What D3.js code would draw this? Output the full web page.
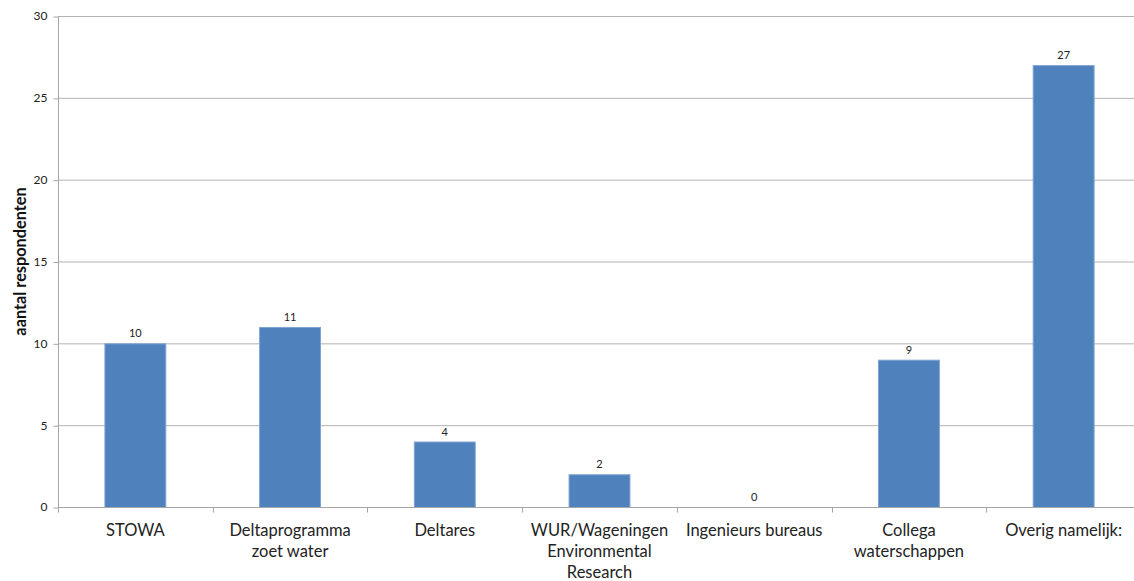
<!DOCTYPE html>
<html><head><meta charset="utf-8">
<script src="https://cdn.jsdelivr.net/npm/d3@7"></script>
<style>body{margin:0;background:#fff}svg{display:block}</style>
</head><body>
<svg id="c" width="1134" height="581"></svg>
<script>
const categories = [["STOWA"],["Deltaprogramma","zoet water"],["Deltares"],["WUR/Wageningen","Environmental","Research"],["Ingenieurs bureaus"],["Collega","waterschappen"],["Overig namelijk:"]];
const values = [10, 11, 4, 2, 0, 9, 27];
const yTicks = [0, 5, 10, 15, 20, 25, 30];
const yTitle = "aantal respondenten";

const svg = d3.select("#c");
const W = 1134, H = 581;
const m = {l:58, t:16, b:74};
const plotRight = 1141;
const font = "Lato, 'Open Sans', sans-serif";
const x = d3.scaleBand().domain(d3.range(values.length)).range([m.l, plotRight]).paddingInner(0.6).paddingOuter(0.3);
const y = d3.scaleLinear().domain([0, 30]).range([H - m.b, m.t]);

// gridlines
svg.append("g").selectAll("line").data(yTicks.filter(d=>d>0)).join("line")
  .attr("x1", m.l).attr("x2", W).attr("y1", d=>y(d)+0.5).attr("y2", d=>y(d)+0.5)
  .attr("stroke", "#b3b3b3").attr("stroke-width", 1);

// y axis
const ya = svg.append("g").attr("transform", `translate(${m.l+0.5},0)`)
  .call(d3.axisLeft(y).tickValues(yTicks).tickSize(5).tickPadding(6));
ya.select(".domain").attr("stroke", "#a6a6a6").attr("d", `M-0.5,${y(30)+0.5}H0V${y(0)+0.5}`);
ya.selectAll(".tick line").attr("stroke", "#a6a6a6").attr("transform","translate(0,0.5)");
ya.selectAll(".tick text").attr("font-family", font).attr("font-size", 12).attr("fill", "#222");

// bars
svg.append("g").selectAll("rect").data(values).join("rect")
  .attr("x", (d,i)=>x(i)+0.5).attr("width", x.bandwidth()-1)
  .attr("y", d=>y(d)+0.5).attr("height", d=>Math.max(0, y(0)-y(d)))
  .attr("fill", "#4f81bd").attr("stroke", d=>d>0?"#7fa3d1":"none").attr("stroke-width", 1);

// value labels
svg.append("g").selectAll("text").data(values).join("text")
  .attr("x", (d,i)=>x(i)+x.bandwidth()/2).attr("y", d=>y(d)-6)
  .attr("text-anchor", "middle").attr("font-family", font).attr("font-size", 11).attr("fill", "#222")
  .text(d=>d);

// x axis
const step = x.step();
const xa = svg.append("g").attr("transform", `translate(0,${y(0)+0.5})`);
xa.append("line").attr("x1", m.l).attr("x2", W).attr("stroke", "#a6a6a6");
xa.selectAll(".tk").data(d3.range(values.length+1)).join("line").attr("class","tk")
  .attr("x1", i=>Math.round(m.l + i*step)+0.5).attr("x2", i=>Math.round(m.l + i*step)+0.5)
  .attr("y1", 0).attr("y2", 5).attr("stroke", "#a6a6a6");
const lbl = svg.append("g").selectAll("text").data(categories).join("text")
  .attr("x", (d,i)=>x(i)+x.bandwidth()/2).attr("y", 536)
  .attr("text-anchor", "middle").attr("font-family", font).attr("font-size", 16.5).attr("fill", "#222");
lbl.selectAll("tspan").data(d=>d).join("tspan")
  .attr("x", function(){return d3.select(this.parentNode).attr("x");})
  .attr("dy", (d,i)=>i===0?0:21).text(d=>d);

// y title
svg.append("text").attr("transform", `translate(26,${(y(0)+y(30))/2}) rotate(-90)`)
  .attr("text-anchor", "middle").attr("font-family", font).attr("font-size", 16.3).attr("font-weight", "bold").attr("fill", "#111")
  .text(yTitle);
</script>
</body></html>
